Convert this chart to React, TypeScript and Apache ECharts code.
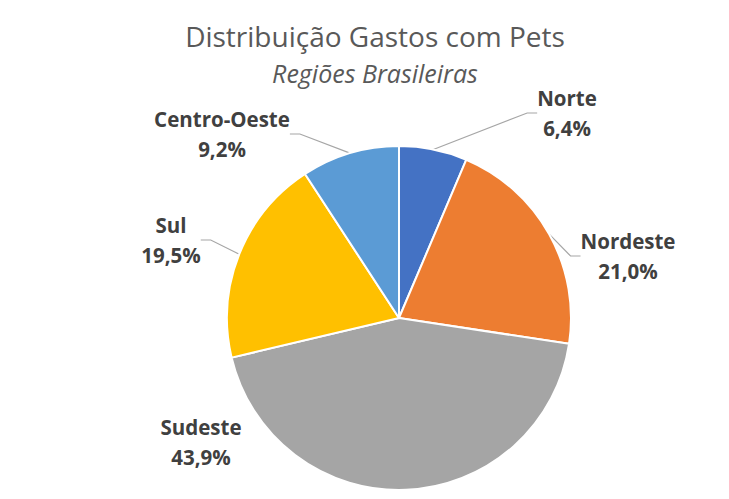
import React, { useEffect, useRef } from "react";
import * as echarts from "echarts";

const categories = ["Norte", "Nordeste", "Sudeste", "Sul", "Centro-Oeste"];
const values = [6.4, 21.0, 43.9, 19.5, 9.2];
const colors = ["#4472C4", "#ED7D31", "#A5A5A5", "#FFC000", "#5B9BD5"];
const showLine = [true, true, false, true, true];
const titleText = "Distribuição Gastos com Pets";
const subtitleText = "Regiões Brasileiras";
// label block centres (px) in the 729x499 canvas
const labelPos: [number, number][] = [
  [567, 113],
  [628, 256],
  [201, 442],
  [171, 240],
  [222, 134],
];

const FONT = "'Open Sans', sans-serif";

export default function App() {
  const ref = useRef<HTMLDivElement>(null);
  useEffect(() => {
    if (!ref.current) return;
    const chart = echarts.init(ref.current, undefined, { renderer: "svg" });
    chart.setOption({
      animation: false,
      backgroundColor: "#ffffff",
      graphic: [
        {
          type: "text",
          x: 375,
          y: 36,
          style: {
            text: titleText,
            align: "center",
            verticalAlign: "middle",
            font: `normal 28px ${FONT}`,
            fill: "#595959",
          },
        },
        {
          type: "text",
          x: 375,
          y: 73,
          style: {
            text: subtitleText,
            align: "center",
            verticalAlign: "middle",
            font: `italic 25px ${FONT}`,
            fill: "#595959",
          },
        },
      ],
      series: [
        {
          type: "pie",
          center: [399, 318],
          radius: 172,
          startAngle: 90,
          clockwise: true,
          itemStyle: { borderColor: "#ffffff", borderWidth: 2 },
          label: {
            show: true,
            position: "outside",
            fontFamily: FONT,
            fontSize: 20.5,
            fontWeight: "bold",
            color: "#404040",
            lineHeight: 30,
            align: "center",
            formatter: (p: any) => `${p.name}\n${p.value.toFixed(1).replace(".", ",")}%`,
          },
          labelLine: { show: true, length: 15, length2: 10, lineStyle: { color: "#A6A6A6", width: 1.2 } },
          labelLayout: (params: any) => {
            const pos = labelPos[params.dataIndex];
            return { x: pos[0], y: pos[1], align: "center", verticalAlign: "middle" };
          },
          data: categories.map((c, i) => ({
            name: c,
            value: values[i],
            itemStyle: { color: colors[i] },
            labelLine: { show: showLine[i] },
          })),
        },
      ],
    });
    return () => chart.dispose();
  }, []);
  return <div ref={ref} style={{ width: 729, height: 499, position: "absolute", left: 0, top: 0 }} />;
}
